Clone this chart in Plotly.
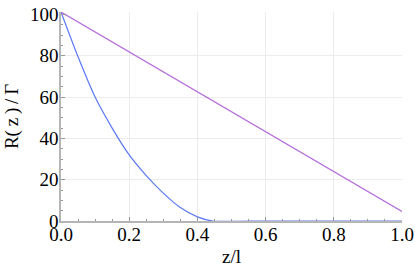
import plotly.graph_objects as go

z_blue = [0.0, 0.05, 0.1, 0.15, 0.2, 0.25, 0.3, 0.35, 0.4, 0.445, 0.6, 0.8, 1.0]
r_blue = [101.2, 79.5, 60.0, 45.0, 32.0, 22.0, 13.5, 6.5, 2.0, 0.0, 0.0, 0.0, 0.0]
z_purple = [0.0, 1.0]
r_purple = [101.2, 4.6]

x_ticks = [0.0, 0.2, 0.4, 0.6, 0.8, 1.0]
x_labels = ["0.0", "0.2", "0.4", "0.6", "0.8", "1.0"]
y_ticks = [0, 20, 40, 60, 80, 100]
x_grid = [0.2, 0.4, 0.6, 0.8]
y_grid = [20, 40, 60, 80]

FAMILY = "Liberation Serif"
FS = 19

fig = go.Figure()
fig.add_trace(go.Scatter(x=z_blue, y=r_blue, mode="lines", line=dict(color="#5b78f5", width=1.2, shape="spline", smoothing=0.6), hoverinfo="skip"))
fig.add_trace(go.Scatter(x=z_purple, y=r_purple, mode="lines", line=dict(color="#b36ad9", width=1.2), hoverinfo="skip"))
fig.add_trace(go.Scatter(x=[None], y=[None], xaxis="x2", yaxis="y2", showlegend=False, hoverinfo="skip"))

fig.update_layout(
    width=415, height=276,
    margin=dict(l=61, r=13, t=12, b=55, autoexpand=False),
    paper_bgcolor="white", plot_bgcolor="white",
    showlegend=False,
    font=dict(family=FAMILY, size=FS, color="black"),
)
fig.update_xaxes(range=[0, 1], tickvals=x_ticks, ticktext=x_labels, showgrid=False, zeroline=False,
                 showline=True, linecolor="#b5b5b5", linewidth=1.5, ticks="inside", ticklen=4, tickcolor="#999",
                 minor=dict(dtick=0.05, ticks="inside", ticklen=2, tickcolor="#999"),
                 title_text="z/l", title_font=dict(family=FAMILY, size=FS), title_standoff=6,
                 tickfont=dict(family=FAMILY, size=FS, color="black"), automargin=False,
                 ticklabelstandoff=-5,
                 ticklabeloverflow="allow", selector=dict(overlaying=None))
fig.update_yaxes(range=[0, 101.2], tickvals=y_ticks, showgrid=False, zeroline=False,
                 showline=True, linecolor="#b5b5b5", linewidth=1.5, ticks="inside", ticklen=4, tickcolor="#999",
                 minor=dict(dtick=5, ticks="inside", ticklen=2, tickcolor="#999"),
                 title_text="R(\u2009z\u2009)\u2009/\u2009Γ", title_font=dict(family=FAMILY, size=FS), title_standoff=6,
                 tickfont=dict(family=FAMILY, size=FS, color="black"), automargin=False,
                 ticklabelstandoff=-3,
                 ticklabeloverflow="allow", selector=dict(overlaying=None))
fig.update_layout(
    xaxis2=dict(overlaying="x", range=[0, 1], tickvals=x_grid, showticklabels=False, showgrid=True,
                gridcolor="#ececec", gridwidth=1, zeroline=False, showline=False, ticks="", automargin=False),
    yaxis2=dict(overlaying="y", range=[0, 101.2], tickvals=y_grid, showticklabels=False, showgrid=True,
                gridcolor="#ececec", gridwidth=1, zeroline=False, showline=False, ticks="", automargin=False),
)

fig.write_html("out.html", config=dict(displayModeBar=False),
               post_script="document.body.style.margin='0';document.body.style.overflow='hidden';")
